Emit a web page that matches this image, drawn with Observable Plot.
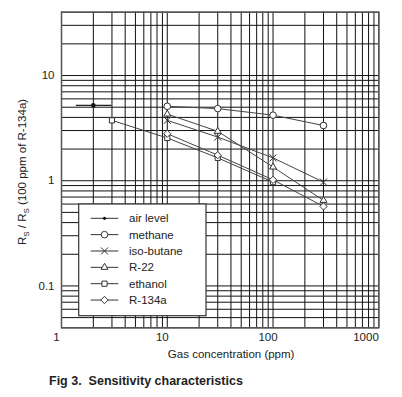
<!DOCTYPE html>
<html><head><meta charset="utf-8">
<script src="https://cdn.jsdelivr.net/npm/d3@7"></script>
<script src="https://cdn.jsdelivr.net/npm/@observablehq/plot@0.6"></script>
<style>
body{margin:0;background:#fff;font-family:"Liberation Sans",Arial,sans-serif;}
#wrap{position:relative;width:402px;height:397px;overflow:hidden;}
#title{position:absolute;left:49px;top:374px;font-weight:bold;font-size:12.5px;color:#222;white-space:pre;}
</style></head><body>
<div id="wrap"><div id="chart"></div><div id="title">Fig 3.  Sensitivity characteristics</div></div>
<script>
// ---- data ----
const seriesNames = ["methane", "iso-butane", "R-22", "ethanol", "R-134a"];
const seriesSymbols = ["circle", "times", "triangle2", "square2", "diamond2"];
const gasConc = [10, 30, 100, 300];
const ethanolConc = [3, 10, 30, 100];
const methane = [5.1, 4.85, 4.2, 3.35];
const isoButane = [3.75, 2.6, 1.65, 0.97];
const r22 = [4.3, 2.95, 1.35, 0.65];
const ethanol = [3.75, 2.55, 1.65, 0.97];
const r134a = [2.8, 1.75, 1.02, 0.57];
const airLevelConc = [2];
const airLevelValue = [5.2];
const airLevelSpan = [1.38, 3];
const xTicks = [1, 10, 100];
const xTickLast = [1000];
const yTicks = [0.1, 1, 10];
const xGrid = [1,2,3,4,5,6,7,8,9,10,20,30,40,50,60,70,80,90,100,200,300,400,500,600,700,800,900,1000];
const yGrid = [0.04,0.05,0.06,0.07,0.08,0.09,0.1,0.2,0.3,0.4,0.5,0.6,0.7,0.8,0.9,1,2,3,4,5,6,7,8,9,10,20,30,40];
const legendNames = ["air level", "methane", "iso-butane", "R-22", "ethanol", "R-134a"];
const xLabel = "Gas concentration (ppm)";

// ---- table ----
const seriesX = [gasConc, gasConc, gasConc, ethanolConc, gasConc];
const seriesY = [methane, isoButane, r22, ethanol, r134a];
const rows = seriesNames.flatMap((name, i) => seriesY[i].map((v, j) => ({name, x: seriesX[i][j], y: v})));
const air = airLevelConc.map((c, i) => ({x: c, y: airLevelValue[i], x1: airLevelSpan[0], x2: airLevelSpan[1]}));

const ink = "#222";
const svg = Plot.plot({
  width: 402, height: 368,
  marginTop: 11.7, marginLeft: 61, marginRight: 23.7, marginBottom: 40.7,
  style: {fontFamily: "'Liberation Sans', Arial, sans-serif", fontSize: "11.5px", color: ink, background: "white"},
  x: {type: "log", domain: [1, 1000], axis: null},
  y: {type: "log", domain: [0.04, 40], axis: null},
  symbol: {domain: seriesNames, range: seriesSymbols},
  marks: [
    Plot.ruleX(xGrid, {stroke: "#111", strokeWidth: 1}),
    Plot.ruleY(yGrid, {stroke: "#111", strokeWidth: 1}),
    Plot.line(rows, {x: "x", y: "y", z: "name", stroke: "#444", strokeWidth: 1}),
    Plot.ruleY(air, {x1: "x1", x2: "x2", y: "y", stroke: "#222", strokeWidth: 1.3}),
    Plot.dot(air, {x: "x", y: "y", r: 2.3, fill: "#111"}),
    Plot.dot(rows, {x: "x", y: "y", symbol: "name", r: 3.3, fill: "white", stroke: "#333", strokeWidth: 1}),
    Plot.frame({stroke: "#555", strokeWidth: 1.5}),
    Plot.text(xTicks, {x: d => d, frameAnchor: "bottom", dy: 13, dx: -5, text: d => String(d), fill: ink}),
    Plot.text(xTickLast, {x: d => d, frameAnchor: "bottom", dy: 13, textAnchor: "end", text: d => String(d), fill: ink}),
    Plot.text(yTicks, {y: d => d, frameAnchor: "left", dx: -7, textAnchor: "end", text: d => String(d), fill: ink}),
    Plot.text([xLabel], {frameAnchor: "bottom", dy: 30, dx: 11, text: d => d, fill: ink})
  ]
});
document.getElementById("chart").appendChild(svg);

// ---- y-axis label with subscripts ----
const s = d3.select(svg);
const yl = s.append("text")
  .attr("transform", "translate(26,172) rotate(-90)")
  .attr("text-anchor", "middle")
  .attr("fill", ink)
  .style("font-size", "11.5px");
yl.append("tspan").text("R");
yl.append("tspan").attr("dy", 2.5).style("font-size", "8px").text("S");
yl.append("tspan").attr("dy", -2.5).text(" / R");
yl.append("tspan").attr("dy", 2.5).style("font-size", "8px").text("S");
yl.append("tspan").attr("dy", -2.5).text(" (100 ppm of R-134a)");

// ---- legend ----
const lg = s.append("g").attr("text-anchor", "start");
lg.append("rect").attr("x", 78.7).attr("y", 204).attr("width", 127.3).attr("height", 111.7)
  .attr("fill", "white").attr("stroke", "#333").attr("stroke-width", 1.2);
const legendSym = [null, d3.symbolCircle, d3.symbolTimes, d3.symbolTriangle2, d3.symbolSquare2, d3.symbolDiamond2];
legendNames.forEach((name, i) => {
  const cy = 218.3 + i * 16.35;
  lg.append("line").attr("x1", 90.7).attr("x2", 118.3).attr("y1", cy).attr("y2", cy)
    .attr("stroke", "#333").attr("stroke-width", 1);
  if (i === 0) {
    lg.append("circle").attr("cx", 104.5).attr("cy", cy).attr("r", 1.6).attr("fill", "#111");
  } else {
    lg.append("path").attr("transform", `translate(104.5,${cy})`)
      .attr("d", d3.symbol(legendSym[i], Math.PI * 3.3 * 3.3)())
      .attr("fill", "white").attr("stroke", "#333").attr("stroke-width", 1);
  }
  lg.append("text").attr("x", 129).attr("y", cy).attr("dy", "0.35em")
    .attr("text-anchor", "start")
    .attr("fill", ink).style("font-size", "11.5px").text(name);
});
</script>
</body></html>
